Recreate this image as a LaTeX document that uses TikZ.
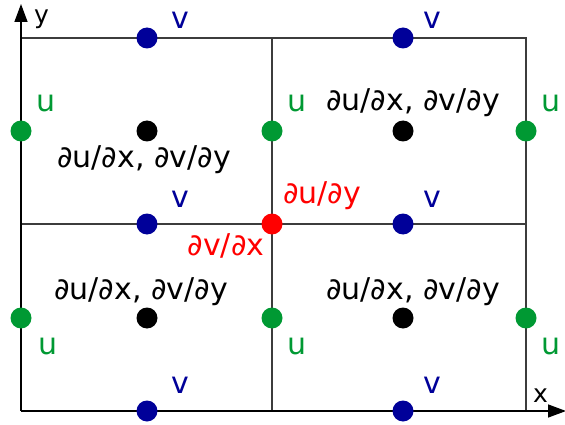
\documentclass[tikz,border=0pt]{standalone}
\usepackage{fontspec}
\setmainfont{DejaVu Sans}
\usetikzlibrary{arrows.meta}
\definecolor{ugreen}{RGB}{0,153,51}
\definecolor{vblue}{RGB}{0,0,153}
\definecolor{gridc}{RGB}{60,60,60}
\tikzset{
  dot/.style={circle,inner sep=0pt,minimum size=21pt},
  udot/.style={dot,fill=ugreen},
  vdot/.style={dot,fill=vblue},
  pdot/.style={dot,fill=black},
  rdot/.style={dot,fill=red},
  lbl/.style={inner sep=0pt,font=\fontsize{30}{32}\selectfont},
  axlbl/.style={inner sep=0pt,font=\fontsize{25}{28}\selectfont,anchor=base west},
  ulbl/.style={lbl,text=ugreen},
  vlbl/.style={lbl,text=vblue},
  plbl/.style={lbl,text=black},
  rlbl/.style={lbl,text=red},
  gridline/.style={draw=gridc,line width=1.3pt},
  axis/.style={draw=black,line width=1.4pt,-{Triangle[length=18pt,width=13pt]}}
}
\begin{document}
\begin{tikzpicture}[x=1pt,y=-1pt]
\useasboundingbox (0,0) rectangle (565,425);
% corners
\coordinate (O) at (21,411);
\coordinate (Ytip) at (21,4);
\coordinate (Xtip) at (566,411);
\coordinate (TL) at (21,38);
\coordinate (TM) at (272,38);
\coordinate (TR) at (526,38);
\coordinate (ML) at (21,224);
\coordinate (MR) at (526,224);
\coordinate (BM) at (272,411);
\coordinate (BR) at (526,411);
% grid
\draw[gridline] (TL) -- (TR) -- (BR);
\draw[gridline] (ML) -- (MR);
\draw[gridline] (TM) -- (BM);
% axes
\draw[axis] (O) -- (Xtip);
\draw[axis] (O) -- (Ytip);
\node[axlbl] (ylab) at (34,24) {y};
\node[axlbl] (xlab) at (533,402) {x};
% v dots
\node[vdot] (v1) at (147,38) {};
\node[vdot] (v2) at (403,38) {};
\node[vdot] (v3) at (147,224) {};
\node[vdot] (v4) at (403,224) {};
\node[vdot] (v5) at (147,411) {};
\node[vdot] (v6) at (403,411) {};
% u dots
\node[udot] (u1) at (21,131) {};
\node[udot] (u2) at (272,131) {};
\node[udot] (u3) at (526,131) {};
\node[udot] (u4) at (21,318) {};
\node[udot] (u5) at (272,318) {};
\node[udot] (u6) at (526,318) {};
% p dots
\node[pdot] (p1) at (147,131) {};
\node[pdot] (p2) at (403,131) {};
\node[pdot] (p3) at (147,318) {};
\node[pdot] (p4) at (403,318) {};
% red
\node[rdot] (r) at (272,224) {};
% labels
\node[vlbl] (lv1) at (180,20) {v};
\node[vlbl] (lv2) at (432,20) {v};
\node[vlbl] (lv3) at (180,199) {v};
\node[vlbl] (lv4) at (432,199) {v};
\node[vlbl] (lv5) at (180,385) {v};
\node[vlbl] (lv6) at (432,385) {v};
\node[ulbl] (lu1) at (46,103) {u};
\node[ulbl] (lu2) at (297,103) {u};
\node[ulbl] (lu3) at (551,103) {u};
\node[ulbl] (lu4) at (48,346) {u};
\node[ulbl] (lu5) at (297,346) {u};
\node[ulbl] (lu6) at (551,346) {u};
\node[plbl] (lp1) at (144,160) {∂u/∂x, ∂v/∂y};
\node[plbl] (lp2) at (413,103) {∂u/∂x, ∂v/∂y};
\node[plbl] (lp3) at (141,292) {∂u/∂x, ∂v/∂y};
\node[plbl] (lp4) at (413,292) {∂u/∂x, ∂v/∂y};
\node[rlbl] (lr1) at (322,196) {∂u/∂y};
\node[rlbl] (lr2) at (226,246) {∂v/∂x};
\end{tikzpicture}
\end{document}
